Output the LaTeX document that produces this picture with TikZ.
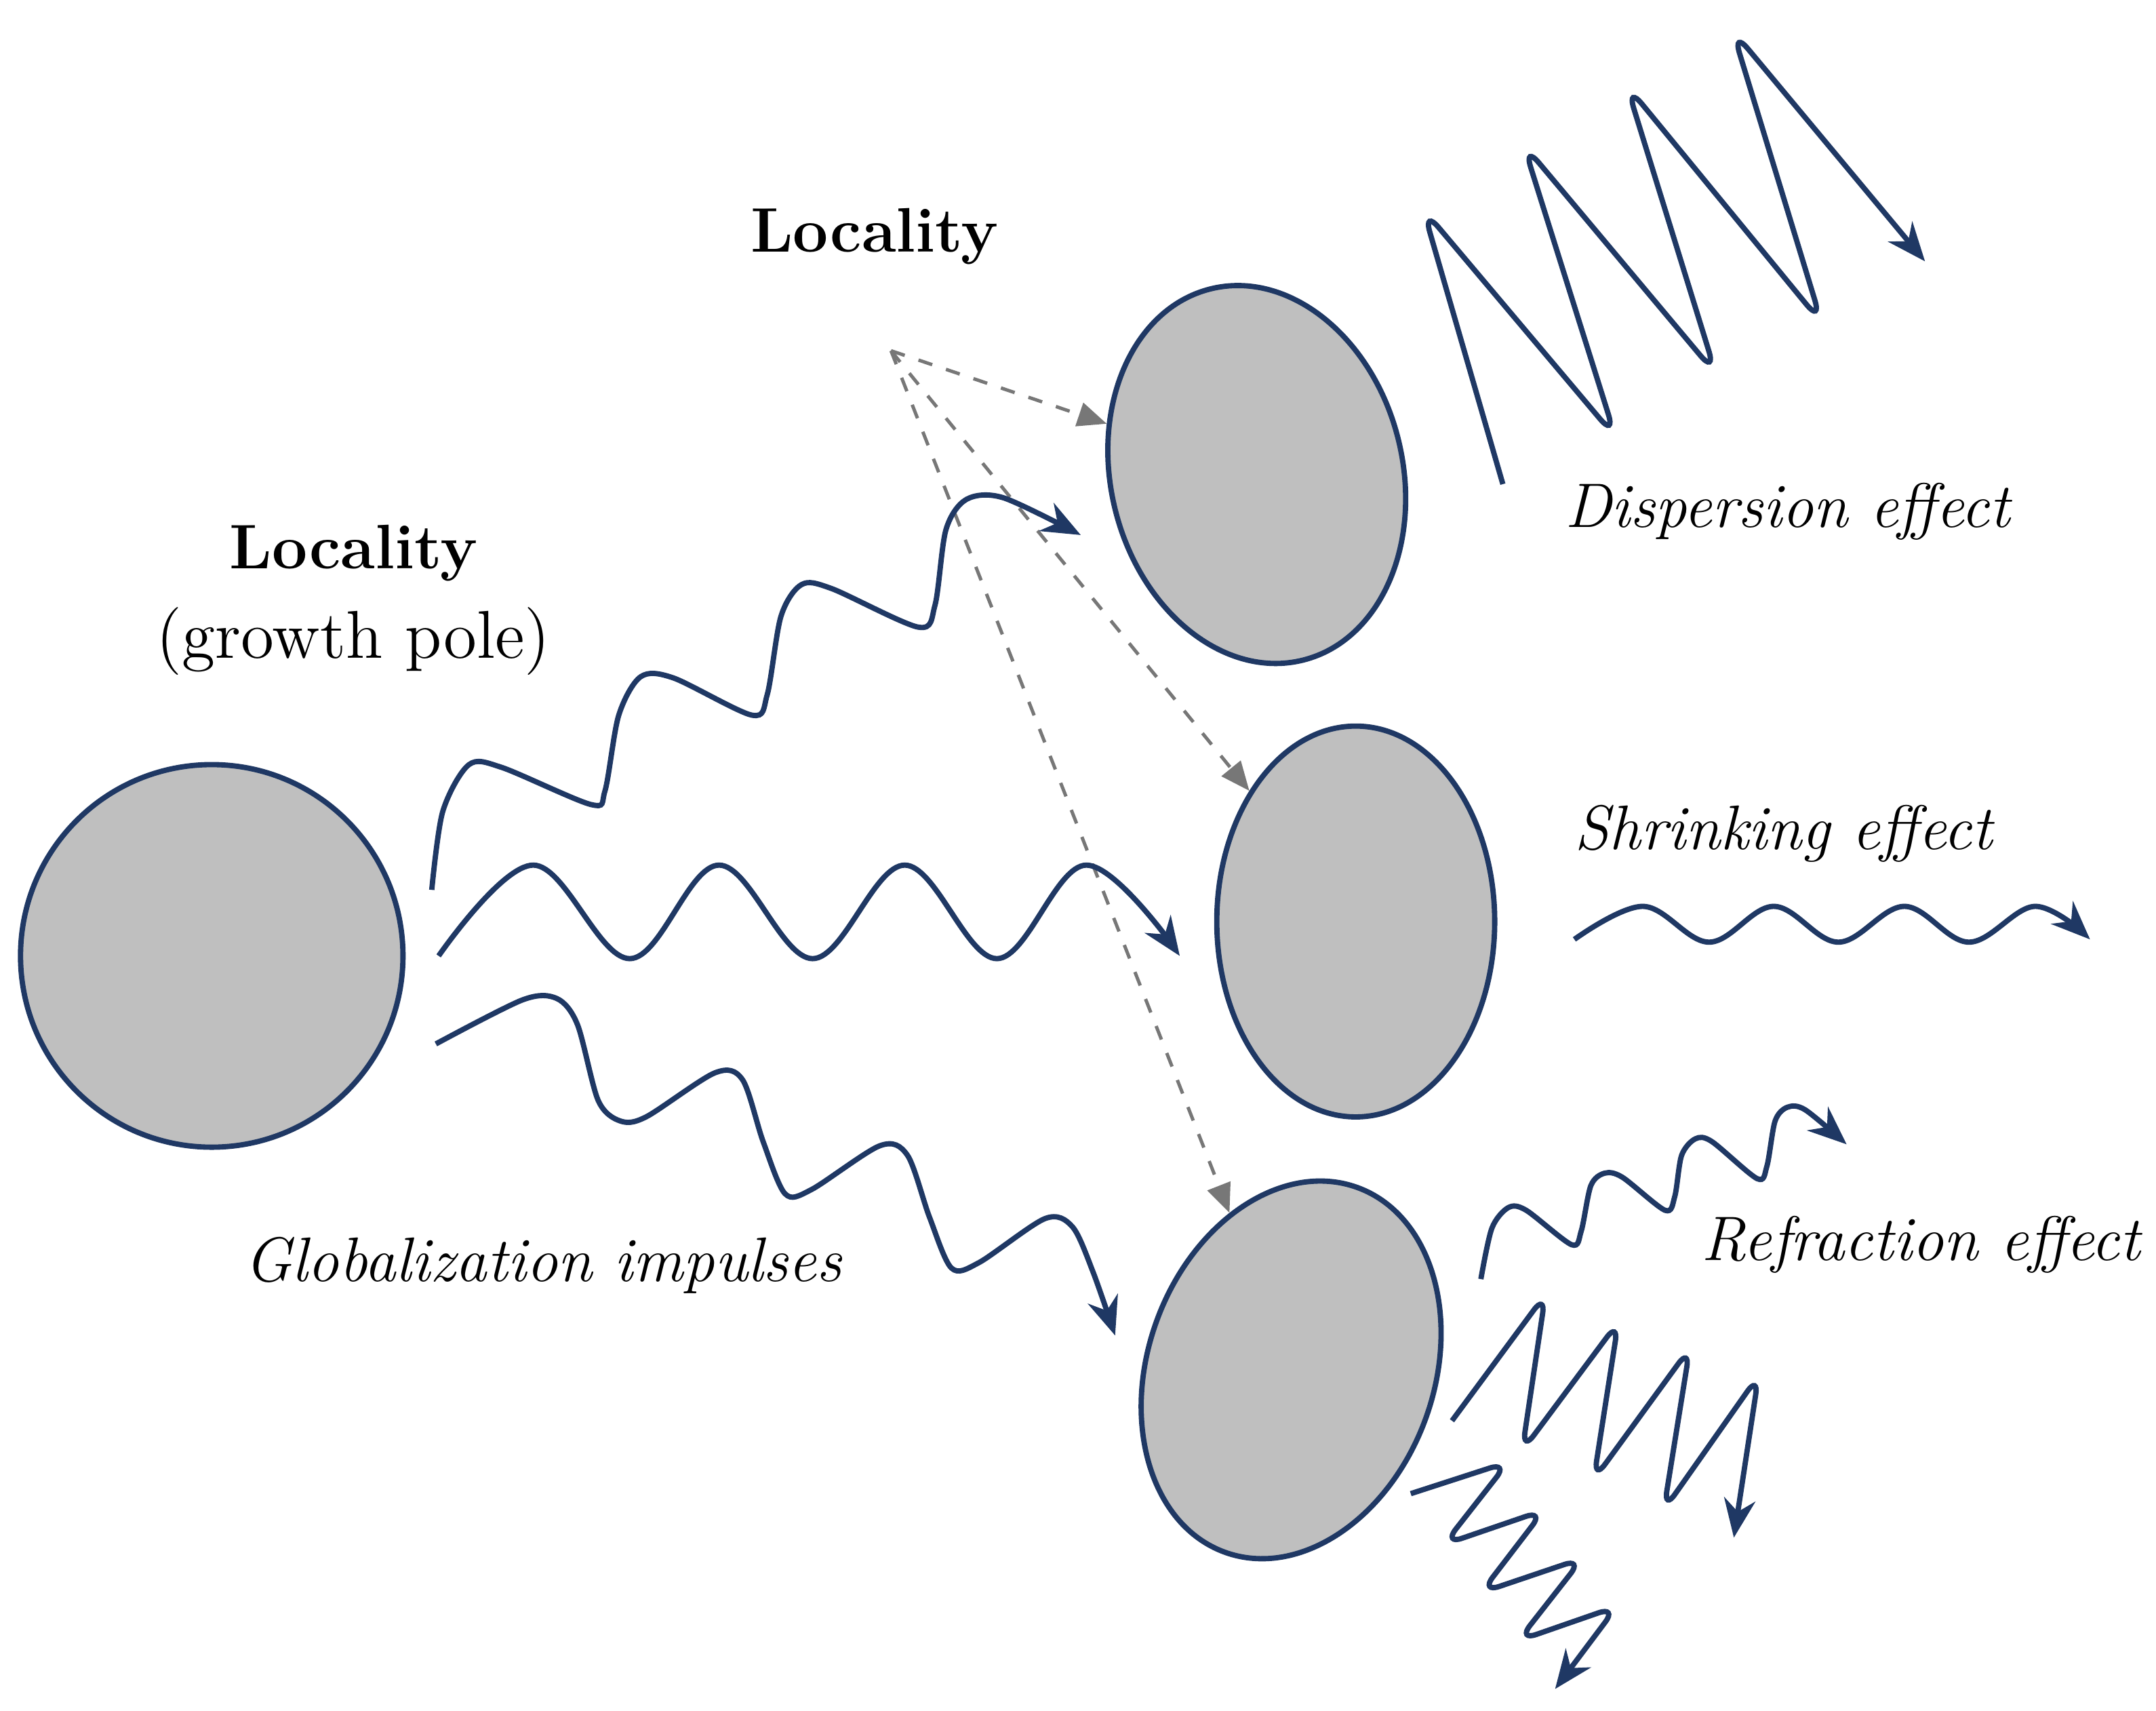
\documentclass[tikz,border=0pt]{standalone}
\usetikzlibrary{shapes.geometric,arrows.meta}
\definecolor{navy}{HTML}{1F3864}
\definecolor{blobfill}{HTML}{BFBFBF}
\definecolor{dashgray}{HTML}{777777}
\begin{document}
\begin{tikzpicture}[x=0.01cm,y=-0.01cm,
  blob/.style={draw=navy,fill=blobfill,line width=1.1pt,inner sep=0pt},
  wave/.style={draw=navy,line width=1.1pt,-{Stealth[length=8pt,width=6.5pt]}},
  dasharrow/.style={draw=dashgray,dashed,line width=0.7pt,-{Triangle[length=6pt,width=5pt]}},
  lbl/.style={font=\fontsize{13}{15}\selectfont\itshape,inner sep=0pt},
  bld/.style={font=\fontsize{13}{15}\selectfont\bfseries,inner sep=0pt}]
\useasboundingbox (0,0) rectangle (1568,1244);
\node[blob,circle,minimum size=2.78cm] (pole) at (154,695) {};
\node[blob,ellipse,minimum width=2.12cm,minimum height=2.78cm,rotate=14] (e1) at (914,345) {};
\node[blob,ellipse,minimum width=2.02cm,minimum height=2.84cm] (e2) at (986,670) {};
\node[blob,ellipse,minimum width=2.08cm,minimum height=2.82cm,rotate=-20] (e3) at (939,996) {};

\node[bld] (loc1) at (636,172) {Locality};
\node[bld] (loc2) at (257,402) {Locality};
\node[inner sep=0pt,font=\fontsize{14}{16}\selectfont] (gp) at (257,466) {(growth pole)};
\node[lbl] (glob) at (395,920) {Globalization impulses};
\node[lbl] (disp) at (1300,372) {Dispersion effect};
\node[lbl] (shr) at (1297,606) {Shrinking effect};
\node[lbl] (refr) at (1397,905) {Refraction effect};

\coordinate (src) at (648,255);
\draw[dasharrow] (src) -- (e1);
\draw[dasharrow] (src) -- (e2);
\draw[dasharrow] (src) -- (e3);

% top globalization wave
\draw[wave] plot[smooth,tension=0.5] coordinates {(314,647) (322,590) (341,556) (365,558) (430,585) (440,575) (450,520) (466,492) (490,493) (547,520) (558,505) (568,448) (583,425) (605,428) (668,456) (680,440) (688,385) (703,363) (730,362) (786,389)};
% middle wave
\draw[wave] plot[smooth,tension=0.6] coordinates {(319,695) (388,629) (458,697) (523,629) (591,697) (658,629) (725,697) (790,629) (858,695)};
% bottom wave
\draw[wave] plot[smooth,tension=0.5] coordinates {(317,759) (380,727) (405,726) (420,745) (435,800) (451,815) (470,812) (520,780) (540,785) (555,830) (571,868) (590,865) (640,833) (660,840) (676,885) (692,922) (712,918) (760,886) (780,892) (795,925) (811,971)};

% dispersion
\draw[wave,rounded corners=5pt] (1093,352) -- (1035,152) -- (1175,318) -- (1108,105) -- (1248,272) -- (1183,62) -- (1325,235) -- (1260,22) -- (1400,190);
% shrinking
\draw[wave] plot[smooth,tension=0.6] coordinates {(1145,683) (1195,659) (1243,685) (1290,659) (1337,685) (1385,659) (1432,685) (1480,659) (1520,683)};
% refraction upper
\draw[wave] plot[smooth,tension=0.5] coordinates {(1077,930) (1085,893) (1097,878) (1110,880) (1143,905) (1150,895) (1157,862) (1167,853) (1180,856) (1211,880) (1218,870) (1223,840) (1233,828) (1245,830) (1278,857) (1285,848) (1291,815) (1300,805) (1313,807) (1343,832)};
% refraction middle
\draw[wave,rounded corners=4pt] (1056,1033) -- (1124,941) -- (1107,1055) -- (1177,961) -- (1159,1076) -- (1229,980) -- (1210,1098) -- (1279,1000) -- (1261,1118);
% refraction lower
\draw[wave,rounded corners=4pt] (1026,1086) -- (1097,1063) -- (1050,1123) -- (1123,1098) -- (1077,1158) -- (1151,1133) -- (1104,1193) -- (1176,1168) -- (1131,1228);
\end{tikzpicture}
\end{document}
